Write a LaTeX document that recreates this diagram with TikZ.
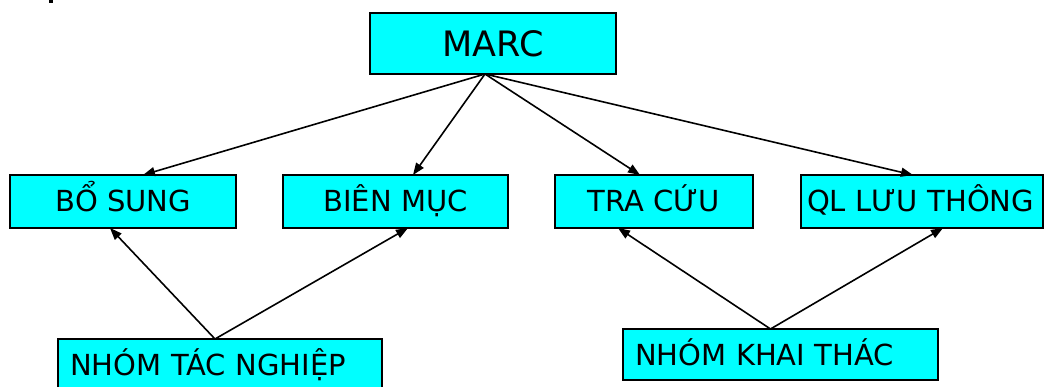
\documentclass[tikz,border=0pt]{standalone}
\usepackage{fontspec}
\setmainfont{DejaVu Sans}
\usetikzlibrary{arrows.meta}
\definecolor{boxcyan}{RGB}{0,255,255}
\begin{document}
\begin{tikzpicture}[x=1pt,y=-1pt,
  box/.style={draw=black, line width=1.6pt, fill=boxcyan, inner sep=0pt, outer sep=0pt,
    font=\fontsize{29}{32}\selectfont, text=black, text height=21pt, text depth=0pt},
  arr/.style={draw=black, line width=1.6pt, -{Triangle[length=12pt,width=9pt]}}]
\useasboundingbox (0,0) rectangle (1046,387);
\fill[black] (49,0) rectangle (53,3);
\node[box, minimum width=246pt, minimum height=61pt, font=\fontsize{35}{38}\selectfont, text height=25.5pt] (marc) at (493,43.5) {MARC};
\node[box, minimum width=226pt, minimum height=53pt] (bo) at (123,201.5) {BỔ SUNG};
\node[box, minimum width=225pt, minimum height=53pt] (bien) at (395.5,201.5) {BIÊN MỤC};
\node[box, minimum width=198pt, minimum height=53pt] (tra) at (654,201.5) {TRA CỨU};
\node[box, minimum width=242pt, minimum height=53pt, text width=230pt, align=left, inner xsep=6pt] (ql) at (922,201.5) {QL LƯU THÔNG};
\node[box, minimum width=324pt, minimum height=51pt, text width=300pt, align=left, inner xsep=12pt] (n1) at (220,364.5) {NHÓM TÁC NGHIỆP};
\node[box, minimum width=315pt, minimum height=51pt, text width=291pt, align=left, inner xsep=12pt] (n2) at (780.5,354.5) {NHÓM KHAI THÁC};
\draw[arr] ([xshift=-8pt]marc.south) -- ([xshift=20pt]bo.north);
\draw[arr] ([xshift=-8pt]marc.south) -- ([xshift=17.5pt]bien.north);
\draw[arr] ([xshift=-8pt]marc.south) -- ([xshift=-14pt]tra.north);
\draw[arr] ([xshift=-8pt]marc.south) -- ([xshift=-9pt]ql.north);
\draw[arr] ([xshift=-5pt]n1.north) -- ([xshift=-13pt]bo.south);
\draw[arr] ([xshift=-5pt]n1.north) -- ([xshift=12.5pt]bien.south);
\draw[arr] ([xshift=-10pt]n2.north) -- ([xshift=-36pt]tra.south);
\draw[arr] ([xshift=-10pt]n2.north) -- ([xshift=21pt]ql.south);
\end{tikzpicture}
\end{document}
